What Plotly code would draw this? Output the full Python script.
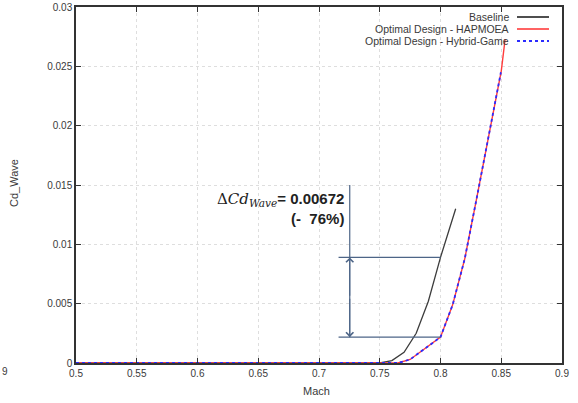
import plotly.graph_objects as go

# ---- data ----
mach_base = [0.50, 0.60, 0.70, 0.75, 0.76, 0.77, 0.78, 0.79, 0.80, 0.81, 0.8125]
cd_base = [0.0, 0.0, 0.0, 0.0, 0.0002, 0.0009, 0.0025, 0.0052, 0.0089, 0.0123, 0.0130]

mach_hap = [0.50, 0.60, 0.70, 0.76, 0.765, 0.775, 0.80, 0.81, 0.82, 0.83, 0.84, 0.85, 0.8532]
cd_hap = [0.0, 0.0, 0.0, 0.0, 0.0, 0.0003, 0.00218, 0.0049, 0.0088, 0.0140, 0.0193, 0.0246, 0.0273]

mach_hyb = [0.50, 0.60, 0.70, 0.76, 0.765, 0.775, 0.80, 0.81, 0.82, 0.83, 0.84, 0.8497]
cd_hyb = [0.0, 0.0, 0.0, 0.0, 0.0, 0.0003, 0.00218, 0.0049, 0.0088, 0.0140, 0.0193, 0.0245]

series_names = ["Baseline", "Optimal Design - HAPMOEA", "Optimal Design - Hybrid-Game"]
x_ticks = [0.5, 0.55, 0.6, 0.65, 0.7, 0.75, 0.8, 0.85, 0.9]
x_ticklabels = ["0.5", "0.55", "0.6", "0.65", "0.7", "0.75", "0.8", "0.85", "0.9"]
y_ticks = [0, 0.005, 0.01, 0.015, 0.02, 0.025, 0.03]
y_ticklabels = ["0", "0.005", "0.01", "0.015", "0.02", "0.025", "0.03"]

delta_mach = 0.80
delta_value = "0.00672"
delta_pct = "76%"

# ---- figure ----
W, H = 578, 403
ML, MR, MT, MB = 76, 16, 7, 40
PW, PH = W - ML - MR, H - MT - MB

c_base = "#3c3c3c"
c_hap = "#ff3b3b"
c_hyb = "#2b2bff"
c_ann = "#4d6587"

fig = go.Figure()
fig.add_trace(go.Scatter(x=mach_base, y=cd_base, mode="lines", name=series_names[0],
                         line=dict(color=c_base, width=1.3)))
fig.add_trace(go.Scatter(x=mach_hap, y=cd_hap, mode="lines", name=series_names[1],
                         line=dict(color=c_hap, width=1.4)))
fig.add_trace(go.Scatter(x=mach_hyb, y=cd_hyb, mode="lines", name=series_names[2],
                         line=dict(color=c_hyb, width=1.8, dash="dot")))

font_tick = dict(family="Liberation Sans, Arial, sans-serif", size=10, color="#3a3a3a")

axis_common = dict(showgrid=True, gridcolor="#dedede", griddash="dot", gridwidth=1,
                   zeroline=False, showline=True, linecolor="#333333", linewidth=1.5,
                   mirror="ticks", ticks="inside", ticklen=5, tickcolor="#333333",
                   tickfont=font_tick, automargin=False)

fig.update_layout(
    width=W, height=H,
    margin=dict(l=ML, r=MR, t=MT, b=MB, autoexpand=False),
    paper_bgcolor="white", plot_bgcolor="white",
    showlegend=False,
    xaxis=dict(range=[0.5, 0.9], tickvals=x_ticks, ticktext=x_ticklabels, **axis_common),
    yaxis=dict(range=[0, 0.03], tickvals=y_ticks, ticktext=y_ticklabels, **axis_common),
)

def px_x(p):
    return (p - ML) / PW

def px_y(p):
    return (H - MB - p) / PH

# axis titles
fig.add_annotation(text="Mach", xref="paper", yref="paper", x=px_x(316), y=px_y(391),
                   showarrow=False, font=dict(family="Liberation Sans, Arial", size=11, color="#3a3a3a"),
                   xanchor="center", yanchor="middle")
fig.add_annotation(text="Cd_Wave", xref="paper", yref="paper", x=px_x(14), y=px_y(183),
                   showarrow=False, textangle=-90,
                   font=dict(family="Liberation Sans, Arial", size=11, color="#3a3a3a"),
                   xanchor="center", yanchor="middle")
# clipped stray label at far left
fig.add_annotation(text="9", xref="paper", yref="paper", x=px_x(0), y=px_y(372),
                   showarrow=False, font=font_tick, xanchor="left", yanchor="middle")

# custom legend (text right, sample line at right)
leg_y = [17, 29, 41]
leg_styles = [dict(color=c_base, width=1.8), dict(color=c_hap, width=1.6),
              dict(color=c_hyb, width=1.8, dash="dot")]
for name, yy, st in zip(series_names, leg_y, leg_styles):
    fig.add_annotation(text=name, xref="paper", yref="paper", x=px_x(511), y=px_y(yy),
                       showarrow=False, xanchor="right", yanchor="middle",
                       font=dict(family="Liberation Sans, Arial", size=10.5, color="#3a3a3a"))
    fig.add_shape(type="line", xref="paper", yref="paper",
                  x0=px_x(517), x1=px_x(549), y0=px_y(yy), y1=px_y(yy), line=st)

# delta annotation
y_top = cd_base[mach_base.index(delta_mach)]
y_bot = cd_hap[mach_hap.index(delta_mach)]
x_left = 0.7161
x_vert = 0.7253
for yy in (y_top, y_bot):
    fig.add_shape(type="line", xref="x", yref="y", x0=x_left, x1=delta_mach, y0=yy, y1=yy,
                  line=dict(color=c_ann, width=1.2))
fig.add_shape(type="line", xref="x", yref="y", x0=x_vert, x1=x_vert, y0=y_bot, y1=0.0150,
              line=dict(color=c_ann, width=1.2))
y_mid = (y_top + y_bot) / 2
for yy in (y_top, y_bot):
    fig.add_annotation(x=x_vert, y=yy, ax=x_vert, ay=y_mid, xref="x", yref="y",
                       axref="x", ayref="y", showarrow=True, arrowhead=4, arrowsize=1.3,
                       arrowwidth=1.1, arrowcolor=c_ann, text="")

label = ('<span style="font-family:DejaVu Serif, serif">Δ<i>Cd</i></span>'
         '<sub><span style="font-family:DejaVu Serif, serif"><i>Wave</i></span></sub>'
         '<b>= ' + delta_value + '</b><br><b>(-  ' + delta_pct + ')</b>')
fig.add_annotation(text=label, xref="paper", yref="paper", x=px_x(346), y=px_y(209),
                   showarrow=False, xanchor="right", yanchor="middle", align="right",
                   font=dict(family="Liberation Sans, Arial", size=15, color="#222222"))

fig.write_html("out.html", config={"displayModeBar": False},
               post_script="document.body.style.margin='0';document.body.style.overflow='hidden';")
